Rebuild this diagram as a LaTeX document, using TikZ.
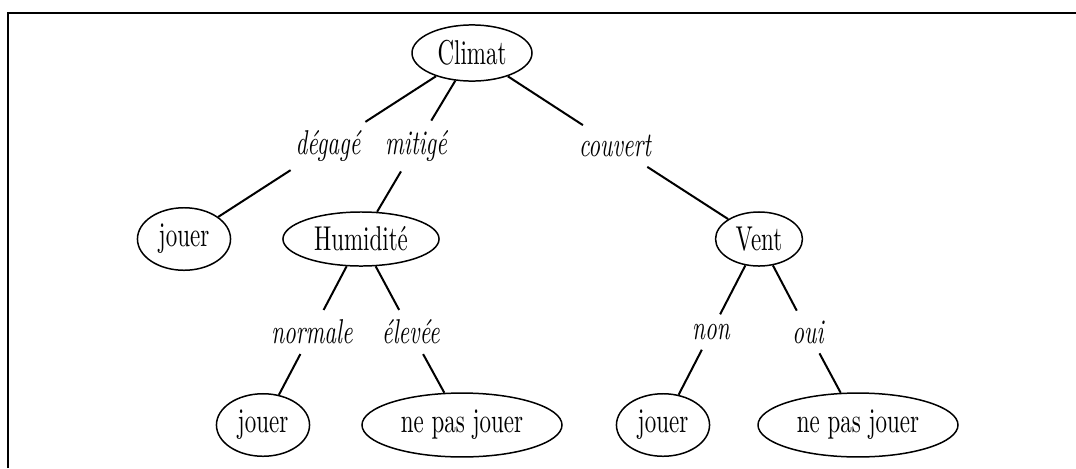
\documentclass[tikz,border=0pt]{standalone}
\usepackage{graphicx}
\usetikzlibrary{shapes.geometric}

% tall, narrow lettering used throughout the tree
\newcommand{\tallword}[1]{\scalebox{1}[1.5]{#1}}

\tikzset{
  attr/.style={ellipse, draw, line width=0.65pt, inner sep=0pt,
               font=\fontsize{10}{12}\selectfont},
  leafsmall/.style={attr, minimum width=40.5pt, minimum height=27.2pt},
  leafwide/.style={attr, minimum width=87pt, minimum height=27.8pt},
  edgelabel/.style={inner xsep=2pt, inner ysep=4.1pt,
                    font=\fontsize{10}{12}\selectfont\itshape},
  branch/.style={line width=0.87pt},
  frameline/.style={line width=0.87pt}
}

\begin{document}
\begin{tikzpicture}[x=0.435pt, y=-0.435pt]
  \useasboundingbox (0,0) rectangle (1076,468);

  % open frame: left and top rules
  \draw[frameline] (8,468) -- (8,13) -- (1076,13);

  % decision nodes
  \node[attr, minimum width=52.2pt, minimum height=24.4pt] (climat) at (472,53) {\tallword{Climat}};
  \node[attr, minimum width=67.9pt, minimum height=23.5pt] (humid) at (361,239) {\tallword{Humidité}};
  \node[attr, minimum width=37.8pt, minimum height=23.5pt] (vent) at (759,239) {\tallword{Vent}};

  % leaves
  \node[leafsmall] (jouerA) at (184,239) {\tallword{jouer}};
  \node[leafsmall] (jouerB) at (263,425) {\tallword{jouer}};
  \node[leafwide]  (npjA)   at (462,425) {\tallword{ne pas jouer}};
  \node[leafsmall] (jouerC) at (663,425) {\tallword{jouer}};
  \node[leafwide]  (npjB)   at (858,425) {\tallword{ne pas jouer}};

  % branch labels, each halfway along its branch
  \node[edgelabel] (degage)  at (328,146) {\tallword{dégagé}};
  \node[edgelabel] (mitige)  at (416,146) {\tallword{mitigé}};
  \node[edgelabel] (couvert) at (615,146) {\tallword{couvert}};
  \node[edgelabel] (normale) at (312,332) {\tallword{normale}};
  \node[edgelabel] (elevee)  at (411,332) {\tallword{élevée}};
  \node[edgelabel] (non)     at (711,332) {\tallword{non}};
  \node[edgelabel] (oui)     at (808,332) {\tallword{oui}};

  % branches
  \draw[branch] (climat) -- (degage) -- (jouerA);
  \draw[branch] (climat) -- (mitige) -- (humid);
  \draw[branch] (climat) -- (couvert) -- (vent);
  \draw[branch] (humid) -- (normale) -- (jouerB);
  \draw[branch] (humid) -- (elevee) -- (npjA);
  \draw[branch] (vent) -- (non) -- (jouerC);
  \draw[branch] (vent) -- (oui) -- (npjB);
\end{tikzpicture}
\end{document}
